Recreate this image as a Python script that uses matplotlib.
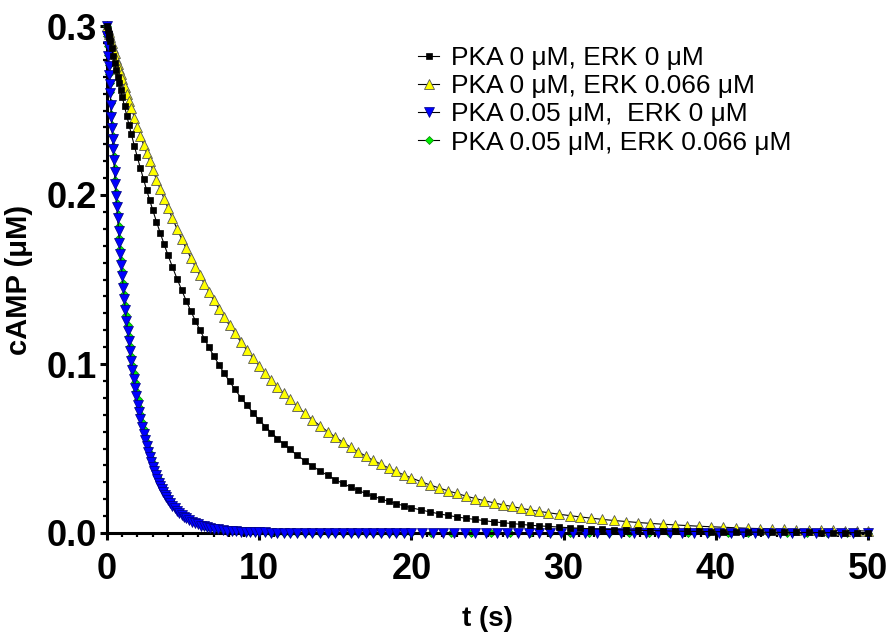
import matplotlib
matplotlib.use('Agg')
import matplotlib.pyplot as plt
from matplotlib.ticker import MultipleLocator, FormatStrFormatter

plt.rcParams['font.family'] = ['Liberation Sans', 'DejaVu Sans']

# time points (s) for the two slow curves (no PKA)
t_slow = [0, 0.05, 0.1, 0.15, 0.2, 0.3, 0.4, 0.5, 0.6, 0.7, 0.8, 0.9, 1.0, 1.15, 1.3,
          1.45, 1.6, 1.8, 2.0, 2.2, 2.4, 2.6, 2.8, 3.0, 3.25, 3.5, 3.75, 4.0, 4.3, 4.6,
          4.9, 5.2, 5.5, 5.8, 6.1, 6.4, 6.7, 7.0, 7.35, 7.7, 8.05, 8.4, 8.8, 9.2, 9.6,
          10.0, 10.4, 10.8, 11.2, 11.6, 12.0, 12.5, 13.0, 13.5, 14.0, 14.5, 15.0, 15.5,
          16.0, 16.5, 17.0, 17.5, 18.0, 18.5, 19.0, 19.5, 20.0, 20.6, 21.2, 21.8, 22.4,
          23.0, 23.6, 24.2, 24.8, 25.4, 26.0, 26.6, 27.2, 27.8, 28.4, 29.0, 29.7, 30.4,
          31.1, 31.8, 32.5, 33.3, 34.1, 34.9, 35.7, 36.5, 37.3, 38.1, 38.9, 39.7, 40.5,
          41.3, 42.1, 42.9, 43.7, 44.5, 45.3, 46.1, 46.9, 47.7, 48.5, 49.3, 50.0]

# PKA 0, ERK 0
camp_ctrl = [0.3, 0.2978, 0.2955, 0.2933, 0.2911, 0.2868, 0.2825, 0.2783, 0.2742, 0.2701,
             0.2661, 0.2621, 0.2582, 0.2525, 0.2468, 0.2414, 0.2360, 0.2290, 0.2222, 0.2157,
             0.2093, 0.2031, 0.1971, 0.1913, 0.1842, 0.1775, 0.1709, 0.1646, 0.1574, 0.1505,
             0.1439, 0.1375, 0.1315, 0.1257, 0.1202, 0.1149, 0.1098, 0.1050, 0.0996, 0.0945,
             0.0897, 0.0851, 0.0801, 0.0755, 0.0711, 0.0669, 0.0630, 0.0594, 0.0559, 0.0527,
             0.0496, 0.0460, 0.0427, 0.0396, 0.0367, 0.0341, 0.0316, 0.0293, 0.0272, 0.0252,
             0.0234, 0.0217, 0.0202, 0.0187, 0.0174, 0.0161, 0.0149, 0.0137, 0.0125, 0.0114,
             0.0104, 0.0095, 0.0087, 0.0080, 0.0073, 0.0066, 0.0061, 0.0056, 0.0051, 0.0046,
             0.0042, 0.0039, 0.0035, 0.0031, 0.0028, 0.0025, 0.0023, 0.0020, 0.0018, 0.0016,
             0.0014, 0.0013, 0.0011, 0.0010, 0.0009, 0.0008, 0.0007, 0.0006, 0.0005, 0.0005,
             0.0004, 0.0004, 0.0003, 0.0003, 0.0002, 0.0002, 0.0002, 0.0002, 0.0002]

# PKA 0, ERK 0.066
camp_erk = [0.3, 0.2983, 0.2967, 0.2950, 0.2934, 0.2902, 0.2870, 0.2838, 0.2807, 0.2776,
            0.2745, 0.2715, 0.2685, 0.2640, 0.2597, 0.2554, 0.2512, 0.2457, 0.2403, 0.2350,
            0.2298, 0.2248, 0.2199, 0.2150, 0.2091, 0.2034, 0.1979, 0.1924, 0.1861, 0.1800,
            0.1741, 0.1684, 0.1629, 0.1576, 0.1524, 0.1474, 0.1426, 0.1379, 0.1327, 0.1276,
            0.1228, 0.1181, 0.1130, 0.1080, 0.1034, 0.0989, 0.0946, 0.0905, 0.0865, 0.0828,
            0.0792, 0.0749, 0.0709, 0.0670, 0.0634, 0.0600, 0.0568, 0.0537, 0.0508, 0.0481,
            0.0455, 0.0430, 0.0407, 0.0385, 0.0364, 0.0344, 0.0326, 0.0305, 0.0285, 0.0267,
            0.0250, 0.0234, 0.0218, 0.0204, 0.0191, 0.0179, 0.0167, 0.0157, 0.0146, 0.0137,
            0.0128, 0.0120, 0.0111, 0.0103, 0.0095, 0.0088, 0.0081, 0.0074, 0.0068, 0.0062,
            0.0057, 0.0052, 0.0048, 0.0044, 0.0040, 0.0037, 0.0034, 0.0031, 0.0028, 0.0026,
            0.0023, 0.0021, 0.0020, 0.0018, 0.0016, 0.0015, 0.0014, 0.0013, 0.0012]

# time points (s) for the fast curves (with PKA), shared up to 20 s
t_fast = [0, 0.03, 0.06, 0.09, 0.12, 0.15, 0.18, 0.21, 0.25, 0.29, 0.33, 0.37, 0.41, 0.45,
          0.5, 0.55, 0.6, 0.65, 0.7, 0.76, 0.82, 0.88, 0.94, 1.0, 1.07, 1.14, 1.21, 1.28,
          1.35, 1.43, 1.51, 1.59, 1.67, 1.75, 1.84, 1.93, 2.02, 2.11, 2.2, 2.3, 2.4, 2.5,
          2.6, 2.7, 2.8, 2.9, 3.0, 3.1, 3.2, 3.3, 3.4, 3.5, 3.6, 3.7, 3.8, 3.9, 4.0, 4.15,
          4.3, 4.45, 4.6, 4.75, 4.9, 5.05, 5.2, 5.4, 5.6, 5.8, 6.0, 6.2, 6.4, 6.6, 6.8,
          7.0, 7.3, 7.6, 7.9, 8.2, 8.5, 8.8, 9.1, 9.4, 9.7, 10.0, 10.4, 10.8, 11.2, 11.6,
          12.0, 12.5, 13.0, 13.5, 14.0, 14.5, 15.0, 15.5, 16.0, 16.5, 17.0, 17.5, 18.0,
          18.5, 19.0, 19.5, 20.0]
t_pka_tail = [20.7, 21.4, 22.1, 22.8, 23.5, 24.2, 24.9, 25.6, 26.3, 27.0, 27.7, 28.4, 29.1,
              29.8, 30.6, 31.4, 32.2, 33.0, 33.8, 34.6, 35.4, 36.2, 37.0, 37.8, 38.6, 39.4,
              40.2, 41.0, 41.8, 42.6, 43.4, 44.2, 45.0, 45.8, 46.6, 47.4, 48.2, 49.0, 50.0]
t_both_tail = [21.3, 22.6, 23.9, 25.2, 26.5, 27.8, 29.1, 30.4, 31.7, 33.0, 34.3, 35.6,
               36.9, 38.2, 39.5, 40.8, 42.1, 43.4, 44.7, 46.0, 47.3, 48.6, 50.0]

# PKA 0.05, ERK 0
camp_pka = [0.3, 0.2939, 0.2880, 0.2822, 0.2765, 0.2709, 0.2654, 0.2601, 0.2531, 0.2463,
            0.2397, 0.2333, 0.2270, 0.2209, 0.2135, 0.2064, 0.1995, 0.1928, 0.1864, 0.1789,
            0.1718, 0.1649, 0.1583, 0.1520, 0.1449, 0.1382, 0.1318, 0.1256, 0.1198, 0.1135,
            0.1074, 0.1018, 0.0964, 0.0913, 0.0859, 0.0808, 0.0760, 0.0715, 0.0672, 0.0628,
            0.0587, 0.0548, 0.0512, 0.0478, 0.0447, 0.0418, 0.0390, 0.0364, 0.0341, 0.0318,
            0.0297, 0.0278, 0.0259, 0.0242, 0.0226, 0.0212, 0.0198, 0.0178, 0.0161, 0.0146,
            0.0131, 0.0119, 0.0107, 0.0097, 0.0087, 0.0076, 0.0067, 0.0058, 0.0051, 0.0044,
            0.0039, 0.0034, 0.0029, 0.0026, 0.0021, 0.0017, 0.0014, 0.0011, 0.0009, 0.0008,
            0.0006, 0.0005, 0.0004, 0.0003, 0.0003, 0.0002, 0.0001, 0.0001, 0.0001, 0.0,
            0.0, 0.0, 0.0, 0.0, 0.0, 0.0, 0.0, 0.0, 0.0, 0.0, 0.0, 0.0, 0.0, 0.0, 0.0,
            0.0, 0.0, 0.0, 0.0, 0.0, 0.0, 0.0, 0.0, 0.0, 0.0, 0.0, 0.0, 0.0, 0.0, 0.0,
            0.0, 0.0, 0.0, 0.0, 0.0, 0.0, 0.0, 0.0, 0.0, 0.0, 0.0, 0.0, 0.0, 0.0, 0.0,
            0.0, 0.0, 0.0, 0.0, 0.0, 0.0, 0.0, 0.0, 0.0]

# PKA 0.05, ERK 0.066
camp_both = [0.3, 0.2941, 0.2884, 0.2827, 0.2772, 0.2717, 0.2664, 0.2612, 0.2544, 0.2477,
             0.2413, 0.2350, 0.2289, 0.2229, 0.2157, 0.2087, 0.2019, 0.1953, 0.1890, 0.1817,
             0.1746, 0.1678, 0.1613, 0.1551, 0.1481, 0.1414, 0.1350, 0.1289, 0.1231, 0.1167,
             0.1107, 0.1050, 0.0996, 0.0945, 0.0891, 0.0839, 0.0791, 0.0745, 0.0702, 0.0657,
             0.0615, 0.0576, 0.0539, 0.0505, 0.0473, 0.0442, 0.0414, 0.0388, 0.0363, 0.0340,
             0.0318, 0.0298, 0.0279, 0.0261, 0.0244, 0.0229, 0.0214, 0.0194, 0.0176, 0.0159,
             0.0144, 0.0130, 0.0118, 0.0107, 0.0097, 0.0085, 0.0074, 0.0065, 0.0057, 0.0050,
             0.0044, 0.0038, 0.0034, 0.0030, 0.0024, 0.0020, 0.0016, 0.0013, 0.0011, 0.0009,
             0.0007, 0.0006, 0.0005, 0.0004, 0.0003, 0.0002, 0.0002, 0.0001, 0.0001, 0.0,
             0.0, 0.0, 0.0, 0.0, 0.0, 0.0, 0.0, 0.0, 0.0, 0.0, 0.0, 0.0, 0.0, 0.0, 0.0,
             0.0, 0.0, 0.0, 0.0, 0.0, 0.0, 0.0, 0.0, 0.0, 0.0, 0.0, 0.0, 0.0, 0.0, 0.0,
             0.0, 0.0, 0.0, 0.0, 0.0, 0.0, 0.0, 0.0]

labels = ['PKA 0 μM, ERK 0 μM',
          'PKA 0 μM, ERK 0.066 μM',
          'PKA 0.05 μM,  ERK 0 μM',
          'PKA 0.05 μM, ERK 0.066 μM']

fig = plt.figure(figsize=(8.92, 6.32), dpi=100)
ax = fig.add_axes([107 / 892, 1 - 533 / 632, 761 / 892, 507 / 632])

common = dict(color='black', lw=0.8, clip_on=False)
h1, = ax.plot(t_slow, camp_ctrl, marker='s', ms=4.5, mfc='black', mec='black',
              mew=0.5, zorder=5, label=labels[0], **common)
h2, = ax.plot(t_slow, camp_erk, marker='^', ms=6.5, mfc='#ffff00', mec='#555555',
              mew=0.6, zorder=3, label=labels[1], **common)
h3, = ax.plot(t_fast + t_pka_tail, camp_pka, marker='v', ms=6.5, mfc='#0000ff',
              mec='#000080', mew=0.5, zorder=4, label=labels[2], **common)
h4, = ax.plot(t_fast + t_both_tail, camp_both, marker='D', ms=4, mfc='#00ee00',
              mec='#008000', mew=0.5, zorder=2, label=labels[3], **common)

ax.set_xlim(0, 50)
ax.set_ylim(0, 0.3)
ax.xaxis.set_major_locator(MultipleLocator(10))
ax.xaxis.set_minor_locator(MultipleLocator(1))
ax.yaxis.set_major_locator(MultipleLocator(0.1))
ax.yaxis.set_minor_locator(MultipleLocator(0.01))
ax.yaxis.set_major_formatter(FormatStrFormatter('%.1f'))

for side in ['top', 'right']:
    ax.spines[side].set_visible(False)
for side in ['left', 'bottom']:
    ax.spines[side].set_linewidth(2.2)

ax.tick_params(which='major', direction='out', length=5, width=2.2, labelsize=26)
ax.tick_params(which='minor', direction='out', length=3, width=1.6)
ax.tick_params(axis='y', which='major', pad=2)
ax.tick_params(axis='x', which='major', pad=9)
for lbl in ax.get_xticklabels() + ax.get_yticklabels():
    lbl.set_fontweight('bold')

ax.set_xlabel('t (s)', fontsize=20, fontweight='bold', labelpad=13)
ax.set_ylabel('cAMP (μM)', fontsize=21, fontweight='bold', labelpad=10)

ax.legend(handles=[h1, h2, h3, h4], loc='upper left',
          bbox_to_anchor=(418 / 892, 1 - 46 / 632), bbox_transform=fig.transFigure,
          frameon=False, fontsize=19, handlelength=0.8, handletextpad=0.45,
          labelspacing=0.16, borderpad=0, borderaxespad=0, numpoints=1)

fig.savefig('out.png', dpi=100)
